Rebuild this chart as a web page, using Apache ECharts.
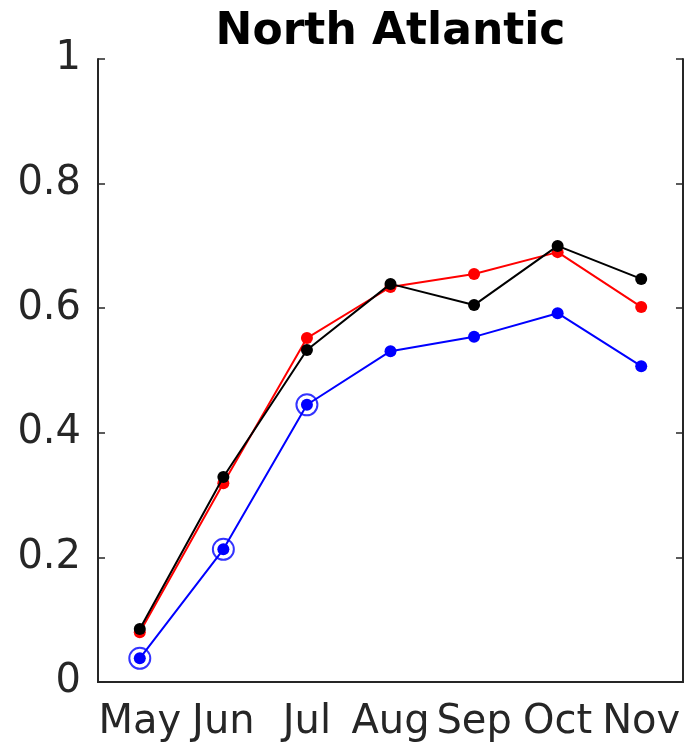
<!DOCTYPE html>
<html>
<head>
<meta charset="utf-8">
<style>
  html, body { margin: 0; padding: 0; background: #fff; }
  #chart { width: 684px; height: 747px; }
</style>
<script src="https://cdn.jsdelivr.net/npm/echarts@6/dist/echarts.min.js"></script>
</head>
<body>
<div id="chart"></div>
<script>
// Monthly values, North Atlantic
const months = ['May', 'Jun', 'Jul', 'Aug', 'Sep', 'Oct', 'Nov'];
const blackVals = [0.085, 0.329, 0.533, 0.639, 0.605, 0.700, 0.647];
const redVals   = [0.080, 0.319, 0.552, 0.634, 0.655, 0.690, 0.602];
const blueVals  = [0.038, 0.213, 0.445, 0.531, 0.554, 0.592, 0.507];
// months whose blue value is ringed
const ringedMonths = ['May', 'Jun', 'Jul'];
const yTicks = [0, 0.2, 0.4, 0.6, 0.8, 1];

const FONT = 'DejaVu Sans';
const AXIS_COLOR = '#262626';
const GRID = { left: 98, right: 1, top: 59, bottom: 65 };
const plotCenterX = GRID.left + (684 - GRID.left - GRID.right) / 2;

const chart = echarts.init(document.getElementById('chart'), null, { renderer: 'canvas' });

function lineSeries(name, vals, color, z) {
  return {
    name: name,
    type: 'line',
    data: vals,
    xAxisIndex: 0,
    yAxisIndex: 0,
    symbol: 'circle',
    symbolSize: 12,
    showAllSymbol: true,
    lineStyle: { color: color, width: 2 },
    itemStyle: { color: color },
    z: z,
    animation: false
  };
}

const ringData = ringedMonths.map(m => [m, blueVals[months.indexOf(m)]]);

const tickStyle = { color: AXIS_COLOR, width: 1.5 };

const option = {
  backgroundColor: '#ffffff',
  animation: false,
  title: {
    text: 'North Atlantic',
    left: plotCenterX - 5,
    textAlign: 'center',
    top: 6,
    textStyle: { fontFamily: FONT, fontWeight: 'bold', fontSize: 44, color: '#000' }
  },
  grid: Object.assign({ containLabel: false }, GRID),
  xAxis: [
    {
      type: 'category',
      data: months,
      position: 'bottom',
      boundaryGap: true,
      axisLine: { lineStyle: { color: AXIS_COLOR, width: 2 } },
      axisTick: { inside: true, alignWithLabel: true, length: 7, interval: 0, lineStyle: tickStyle },
      axisLabel: { interval: 0, margin: 21, fontFamily: FONT, fontSize: 40, color: AXIS_COLOR },
      splitLine: { show: false }
    },
    {
      type: 'category',
      data: months,
      position: 'top',
      boundaryGap: true,
      axisLine: { lineStyle: { color: AXIS_COLOR, width: 2 } },
      axisTick: { inside: true, alignWithLabel: true, length: 7, interval: 0, lineStyle: tickStyle },
      axisLabel: { show: false },
      splitLine: { show: false }
    }
  ],
  yAxis: [
    {
      type: 'value',
      min: 0, max: 1, interval: 0.2,
      position: 'left',
      axisLine: { show: true, lineStyle: { color: AXIS_COLOR, width: 2 } },
      axisTick: { show: true, inside: true, length: 7, lineStyle: tickStyle },
      axisLabel: {
        margin: 17, fontFamily: FONT, fontSize: 40, color: AXIS_COLOR,
        formatter: v => {
          const t = yTicks.find(k => Math.abs(k - v) < 1e-9);
          return t === undefined ? '' : String(t);
        }
      },
      splitLine: { show: false }
    },
    {
      type: 'value',
      min: 0, max: 1, interval: 0.2,
      position: 'right',
      axisLine: { show: true, lineStyle: { color: AXIS_COLOR, width: 2 } },
      axisTick: { show: true, inside: true, length: 7, lineStyle: tickStyle },
      axisLabel: { show: false },
      splitLine: { show: false }
    }
  ],
  series: [
    {
      name: 'blue rings',
      type: 'scatter',
      data: ringData,
      xAxisIndex: 0,
      yAxisIndex: 0,
      symbol: 'emptyCircle',
      symbolSize: 21,
      itemStyle: { color: '#0000ff', borderColor: '#0000ff', borderWidth: 1.5 },
      z: 1,
      animation: false
    },
    lineSeries('blue', blueVals, '#0000ff', 2),
    lineSeries('red', redVals, '#ff0000', 3),
    lineSeries('black', blackVals, '#000000', 4)
  ]
};

chart.setOption(option);
</script>
</body>
</html>
